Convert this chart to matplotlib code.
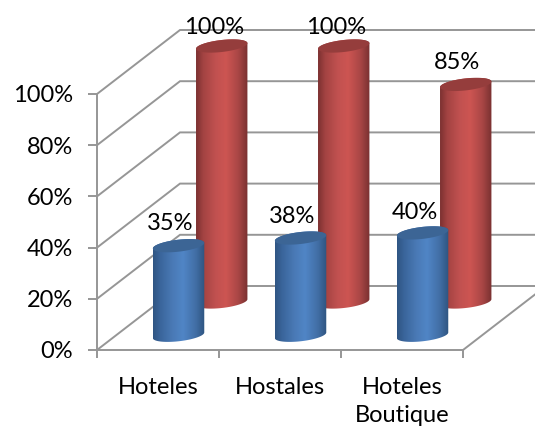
import numpy as np
import matplotlib
matplotlib.use("Agg")
import matplotlib.pyplot as plt
from matplotlib.colors import LinearSegmentedColormap
from matplotlib.patches import Polygon
from matplotlib.ticker import PercentFormatter

categories = ["Hoteles", "Hostales", "Hoteles\nBoutique"]
serie_azul = [0.35, 0.38, 0.40]
serie_roja = [1.00, 1.00, 0.85]
value_ticks = [0, 0.2, 0.4, 0.6, 0.8, 1.0]

W, H = 535, 429
L, R, T, B = 97, 463, 94, 350
plt.rcParams["font.family"] = ["Lato", "DejaVu Sans"]
FS = 17
GREY = "#969696"
PX = 0.72  # points per pixel at dpi 100

fig = plt.figure(figsize=(W / 100, H / 100), dpi=100)
ax = fig.add_axes([L / W, (H - B) / H, (R - L) / W, (B - T) / H])
ax.set_facecolor("none")

n = len(categories)
ux = (R - L) / n      # pixels per category
uy = (B - T)          # pixels per 100 %
DX, DY = 83 / ux, 0.25  # oblique shift of the full chart depth


def shift(x, y, d):
    return x + DX * d, y + DY * d


# walls and floor
for v in value_ticks:
    x0, y0 = shift(0, v, 0)
    x1, y1 = shift(0, v, 1)
    x2, y2 = shift(n, v, 1)
    ax.plot([x0, x1, x2], [y0, y1, y2], color=GREY, lw=1.4, clip_on=False, zorder=1,
            solid_joinstyle="miter")
x0, y0 = shift(n, 0, 0)
x1, y1 = shift(n, 0, 1)
ax.plot([x0, x1], [y0, y1], color=GREY, lw=1.4, clip_on=False, zorder=1)


def cylinder(cat, value, depth, colors, top_color, z):
    a = 25.7 / ux
    b = 6.0 / uy
    k = 2.8 / uy
    cx, y0 = shift(cat + 0.5 + 0.012, 0, depth)
    y1 = y0 + value
    t = np.linspace(0, np.pi, 60)
    # body outline: lower half of the base, then upper half of the top
    xb = cx - a * np.cos(t)
    yb = y0 - b * np.sin(t) - k * np.cos(t)
    xt = cx + a * np.cos(t)
    yt = y1 + b * np.sin(t) + k * np.cos(t)
    verts = np.column_stack([np.r_[xb, xt], np.r_[yb, yt]])
    body = Polygon(verts, closed=True, transform=ax.transData, fc="none", ec="none",
                   clip_on=False)
    ax.add_patch(body)
    cmap = LinearSegmentedColormap.from_list("c", colors)
    grad = np.linspace(0, 1, 256).reshape(1, -1)
    ymin, ymax = verts[:, 1].min(), verts[:, 1].max()
    im = ax.imshow(grad, cmap=cmap, extent=[cx - a, cx + a, ymin, ymax], aspect="auto",
                   interpolation="bilinear", zorder=z)
    im.set_clip_box(fig.bbox)
    im.set_clip_path(body)
    tt = np.linspace(0, 2 * np.pi, 120)
    ax.fill(cx + a * np.cos(tt), y1 + b * np.sin(tt) + k * np.cos(tt),
            color=top_color, lw=0, zorder=z + 0.1, clip_on=False)
    return cx, y1


BLUES = [(0, "#2f5583"), (0.14, "#3a659b"), (0.38, "#4a7ab6"), (0.58, "#5085c6"),
         (0.82, "#426fa6"), (1, "#2e5480")]
REDS = [(0, "#7c3131"), (0.14, "#a34342"), (0.38, "#c15150"), (0.58, "#cd5552"),
        (0.82, "#a84645"), (1, "#783030")]

# data-label offsets from the top of each cylinder, in pixels
red_offsets = [(-7.5, 18.5), (-7.5, 18.5), (-9, 21.5)]
blue_offsets = [(-8.5, 22), (-8.5, 21.5), (-8, 20)]

for i in range(n):
    cx, top = cylinder(i, serie_roja[i], 0.75, REDS, "#953d3c", 3 + i)
    ox, oy = red_offsets[i]
    ax.annotate(f"{serie_roja[i]:.0%}", (cx, top), xytext=(ox * PX, oy * PX),
                textcoords="offset points", ha="center", va="center",
                fontsize=FS, color="black", zorder=20, annotation_clip=False)
for i in range(n):
    cx, top = cylinder(i, serie_azul[i], 0.23, BLUES, "#3c6595", 10 + i)
    ox, oy = blue_offsets[i]
    ax.annotate(f"{serie_azul[i]:.0%}", (cx, top), xytext=(ox * PX, oy * PX),
                textcoords="offset points", ha="center", va="center",
                fontsize=FS, color="black", zorder=20, annotation_clip=False)

ax.set_xlim(0, n)
ax.set_ylim(0, 1)
for s in ("top", "right"):
    ax.spines[s].set_visible(False)
for s in ("left", "bottom"):
    ax.spines[s].set_color(GREY)
    ax.spines[s].set_linewidth(1.4)
ax.set_yticks(value_ticks)
ax.yaxis.set_major_formatter(PercentFormatter(1, decimals=0))
ax.set_xticks(np.arange(n + 1))
ax.set_xticklabels([])
ax.set_xticks(np.arange(n) + 0.5, labels=categories, minor=True)
ax.tick_params(axis="y", length=6.5, width=1.4, color=GREY, pad=11, labelsize=FS)
ax.tick_params(axis="x", which="major", length=6, width=1.4, color=GREY)
ax.tick_params(axis="x", which="minor", length=0, pad=19.5, labelsize=FS)
for lab in ax.get_xticklabels(minor=True):
    lab.set_linespacing(1.42)
    lab.set_multialignment("center")

fig.savefig("out.png", dpi=100, facecolor="white")
